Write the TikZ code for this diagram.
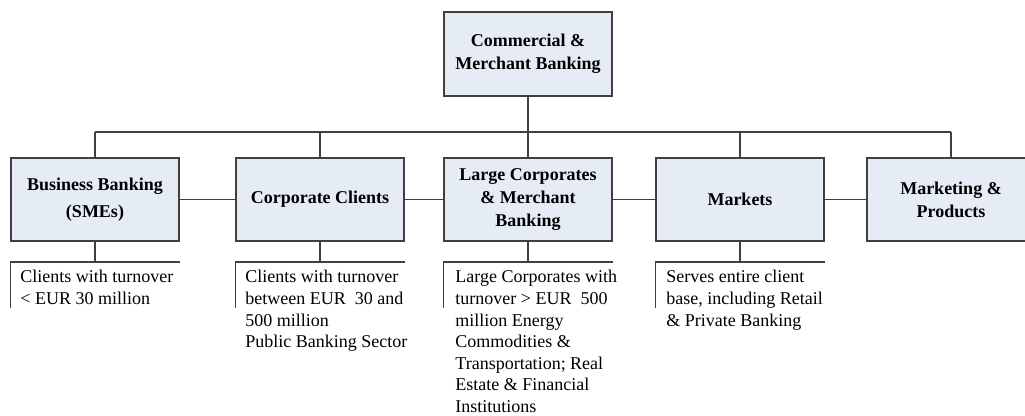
\documentclass[tikz,border=0pt]{standalone}
\usepackage{fontspec}
\setmainfont{Liberation Serif}
\definecolor{boxfill}{RGB}{230,236,246}
\definecolor{boxline}{RGB}{64,64,64}

\begin{document}
\begin{tikzpicture}[x=0.5pt,y=-0.5pt,
  unit/.style={draw=boxline, fill=boxfill, line width=0.6pt, minimum width=84pt, minimum height=41.5pt, align=center, inner sep=2pt, font=\fontsize{9}{11.5}\selectfont\bfseries},
  note/.style={anchor=north west, align=left, inner sep=0pt, font=\fontsize{9}{10.8}\selectfont},
  link/.style={draw=boxline, line width=0.55pt}]

\useasboundingbox (0,0) rectangle (1025,416);

\node (cmb) at (528,54) [unit, minimum height=42pt] {Commercial \&\\Merchant Banking};
\node (bb) at (95,199.5) [unit] {Business Banking\\[2pt](SMEs)};
\node (cc) at (320,199.5) [unit] {Corporate Clients};
\node (lc) at (528,199.5) [unit] {Large Corporates\\\& Merchant\\Banking};
\node (mk) at (740,199.5) [unit] {Markets};
\node (mp) at (951,199.5) [unit] {Marketing \&\\Products};

% bus line
\coordinate (j1) at (95,132);
\coordinate (j2) at (320,132);
\coordinate (j0) at (528,132);
\coordinate (j4) at (740,132);
\coordinate (j5) at (951,132);

\draw[link]
(cmb) to (j0)
(j1) to (j5)
(j1) to (bb)
(j2) to (cc)
(j0) to (lc)
(j4) to (mk)
(j5) to (mp)
(bb) to (cc)
(cc) to (lc)
(lc) to (mk)
(mk) to (mp);

% brackets under the units
\coordinate (k1) at (95,262);
\coordinate (k2) at (320,262);
\coordinate (k3) at (528,262);
\coordinate (k4) at (740,262);

\draw[link]
(bb) to (k1) (bb.west |- k1) -- (bb.east |- k1) (bb.west |- k1) -- ++(0,46)
(cc) to (k2) (cc.west |- k2) -- (cc.east |- k2) (cc.west |- k2) -- ++(0,46)
(lc) to (k3) (lc.west |- k3) -- (lc.east |- k3) (lc.west |- k3) -- ++(0,46)
(mk) to (k4) (mk.west |- k4) -- (mk.east |- k4) (mk.west |- k4) -- ++(0,46);

\node (bbn) at (20,270) [note] {Clients with turnover\\< EUR 30 million};
\node (ccn) at (245,270) [note] {Clients with turnover\\between EUR\ \ 30 and\\500 million\\Public Banking Sector};
\node (lcn) at (455,270) [note] {Large Corporates with\\turnover > EUR\ \ 500\\million Energy\\Commodities \&\\Transportation; Real\\Estate \& Financial\\Institutions};
\node (mkn) at (666,270) [note] {Serves entire client\\base, including Retail\\\& Private Banking};

\end{tikzpicture}
\end{document}
